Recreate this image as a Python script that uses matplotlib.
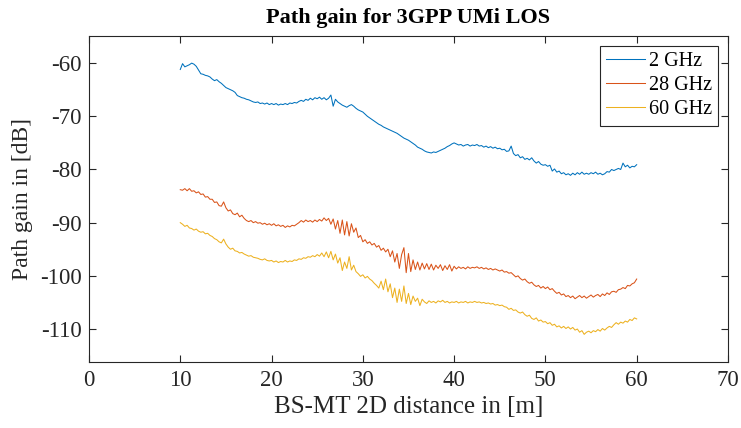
import numpy as np
import matplotlib
matplotlib.use("Agg")
import matplotlib.pyplot as plt

plt.rcParams['font.family'] = ['Liberation Serif', 'DejaVu Serif']
plt.rcParams['axes.unicode_minus'] = False
plt.rcParams['mathtext.fontset'] = 'stix'

distance = np.linspace(10, 60, 201)
labels = ["2 GHz", "28 GHz", "60 GHz"]

gain_2ghz = [
    -61.2, -60.1, -60.7, -60.5, -60.3, -60.0, -60.2, -60.6, -61.3, -62.0,
    -62.1, -62.3, -62.4, -62.6, -63.0, -63.3, -63.1, -63.5, -63.8, -64.2,
    -64.6, -64.8, -65.0, -65.2, -65.5, -66.1, -66.3, -66.5, -66.6, -66.8,
    -66.9, -67.1, -67.3, -67.4, -67.3, -67.6, -67.5, -67.7, -67.5, -67.8,
    -67.6, -67.8, -67.6, -67.9, -67.7, -67.8, -67.6, -67.8, -67.5, -67.6,
    -67.4, -67.5, -67.2, -67.0, -67.2, -66.8, -67.0, -66.6, -66.9, -66.5,
    -66.7, -66.4, -66.8, -66.5, -66.9, -66.6, -66.0, -68.1, -66.8, -67.3,
    -67.6, -67.9, -68.1, -68.3, -68.0, -67.8, -68.1, -68.5, -68.8, -69.0,
    -69.2, -69.6, -70.0, -70.3, -70.6, -70.9, -71.2, -71.5, -71.7, -72.0,
    -72.2, -72.4, -72.6, -72.8, -73.0, -73.2, -73.5, -73.8, -74.1, -74.3,
    -74.5, -74.8, -75.1, -75.4, -75.8, -76.0, -76.2, -76.5, -76.7, -76.8,
    -76.9, -76.7, -76.8, -76.6, -76.4, -76.2, -76.0, -75.7, -75.5, -75.2,
    -75.0, -75.2, -75.4, -75.3, -75.6, -75.4, -75.3, -75.6, -75.4, -75.5,
    -75.3, -75.6, -75.5, -75.8, -75.6, -75.9, -75.7, -76.0, -75.8, -76.1,
    -76.0, -76.3, -76.2, -76.6, -76.5, -75.6, -77.0, -77.4, -77.2, -77.8,
    -77.6, -78.1, -77.9, -78.2, -77.8, -78.4, -78.8, -78.5, -79.0, -79.2,
    -79.1, -79.4, -79.2, -80.3, -79.9, -80.5, -80.3, -80.8, -80.6, -81.0,
    -80.8, -81.1, -80.7, -81.0, -80.6, -80.9, -80.5, -80.9, -80.7, -80.9,
    -80.6, -80.8, -80.5, -80.9, -80.7, -81.0, -80.8, -80.4, -80.5, -80.0,
    -80.2, -80.0, -79.8, -80.0, -78.8, -79.5, -79.2, -79.7, -79.4, -79.5,
    -79.1,
]

gain_28ghz = [
    -83.8, -83.9, -83.6, -84.0, -83.6, -84.1, -84.0, -84.4, -84.2, -84.7,
    -84.6, -85.2, -85.1, -85.6, -85.6, -86.2, -86.1, -86.8, -86.9, -86.1,
    -87.2, -87.8, -87.6, -88.3, -88.5, -88.2, -88.9, -88.6, -89.2, -89.6,
    -89.8, -89.6, -90.0, -89.8, -90.1, -90.0, -90.3, -90.1, -90.4, -90.2,
    -90.5, -90.2, -90.6, -90.4, -90.7, -90.5, -90.9, -90.6, -90.8, -90.5,
    -90.6, -90.3, -90.0, -89.6, -89.9, -89.5, -89.8, -89.6, -89.9, -89.5,
    -89.8, -89.4, -89.7, -89.1, -89.6, -89.2, -90.3, -89.3, -91.2, -89.6,
    -92.0, -89.5, -92.3, -89.8, -92.5, -90.2, -91.8, -91.0, -92.8, -92.4,
    -93.6, -93.2, -93.9, -93.6, -94.2, -93.9, -94.6, -94.3, -95.2, -94.8,
    -95.5, -95.0, -96.4, -95.3, -97.4, -95.8, -98.6, -96.0, -94.7, -99.4,
    -95.8, -99.2, -97.0, -98.8, -97.4, -98.9, -97.6, -98.7, -97.7, -98.8,
    -97.8, -98.9, -98.0, -98.6, -97.9, -99.0, -98.1, -98.8, -97.9, -99.1,
    -98.2, -98.7, -98.3, -98.6, -98.4, -98.7, -98.3, -98.6, -98.4, -98.5,
    -98.3, -98.6, -98.4, -98.7, -98.5, -98.8, -98.6, -98.9, -98.7, -98.9,
    -99.1, -98.9, -99.3, -99.2, -99.5, -99.4, -99.8, -100.2, -100.0, -100.5,
    -100.8, -100.6, -101.1, -101.4, -101.2, -101.7, -102.0, -101.8, -102.3, -102.0,
    -102.4, -102.1, -102.6, -102.4, -102.9, -103.3, -103.1, -103.6, -103.4, -103.9,
    -103.7, -104.1, -103.8, -104.3, -104.0, -103.7, -104.1, -103.8, -104.2, -103.9,
    -103.6, -104.0, -103.7, -103.5, -103.9, -103.4, -103.7, -103.2, -103.5, -103.0,
    -102.9, -103.1, -102.6, -102.5, -102.2, -102.4, -101.8, -101.9, -101.5, -101.3,
    -100.6,
]

gain_60ghz = [
    -90.0, -90.3, -90.7, -90.5, -91.0, -91.1, -91.4, -91.2, -91.6, -91.8,
    -91.7, -92.1, -92.0, -92.4, -92.6, -93.0, -93.2, -93.6, -93.8, -93.1,
    -94.0, -94.6, -95.0, -94.8, -95.3, -95.4, -95.7, -95.6, -95.9, -96.1,
    -96.3, -96.2, -96.5, -96.6, -96.7, -96.9, -97.0, -96.8, -97.1, -97.2,
    -97.1, -97.4, -97.2, -97.5, -97.3, -97.4, -97.1, -97.4, -97.2, -97.3,
    -97.0, -97.1, -96.8, -96.9, -96.6, -96.7, -96.4, -96.5, -96.2, -96.4,
    -96.0, -96.3, -95.7, -96.4, -95.5, -96.6, -95.4, -97.0, -95.9, -97.6,
    -96.6, -99.0, -97.4, -98.6, -96.4, -98.9, -98.0, -99.2, -99.6, -100.1,
    -99.8, -100.4, -100.1, -100.6, -100.9, -101.4, -101.8, -102.3, -101.0, -102.6,
    -100.6, -103.0, -101.5, -104.1, -102.3, -105.0, -102.5, -104.8, -101.9, -105.2,
    -103.3, -105.4, -103.8, -104.8, -104.2, -105.6, -104.4, -104.9, -105.2, -104.7,
    -105.0, -104.8, -105.1, -104.7, -104.9, -104.6, -105.0, -104.8, -105.1, -104.9,
    -105.0, -104.8, -105.1, -104.9, -105.0, -104.8, -105.1, -104.9, -105.0, -104.8,
    -105.0, -104.9, -105.1, -105.0, -105.2, -105.1, -105.3, -105.2, -105.5, -105.4,
    -105.6, -105.5, -105.8, -105.9, -106.3, -106.1, -106.5, -106.4, -106.8, -107.0,
    -106.8, -107.3, -107.6, -107.4, -108.0, -108.2, -107.9, -108.5, -108.3, -108.7,
    -108.6, -109.0, -108.8, -109.3, -109.1, -109.6, -109.4, -109.8, -109.5, -109.9,
    -109.6, -110.0, -109.7, -110.2, -110.0, -110.6, -110.3, -111.0, -110.6, -110.4,
    -110.7, -110.3, -110.5, -110.1, -110.4, -109.9, -110.2, -109.8, -109.5, -109.7,
    -109.2, -108.8, -109.1, -108.7, -108.9, -108.5, -108.7, -108.2, -108.4, -107.9,
    -108.1,
]

colors = ["#0072BD", "#D95319", "#EDB120"]
x_ticks = [0, 10, 20, 30, 40, 50, 60, 70]
y_ticks = [-110, -100, -90, -80, -70, -60]

fig = plt.figure(figsize=(7.41, 4.28), dpi=100)
ax = fig.add_axes([0.1201, 0.1542, 0.8623, 0.7617])

for series, lab, col in zip([gain_2ghz, gain_28ghz, gain_60ghz], labels, colors):
    ax.plot(distance, series, color=col, lw=0.75, label=lab)

ax.set_xlim(0, 70)
ax.set_ylim(-116.2, -54.9)
ax.set_xticks(x_ticks)
ax.set_yticks(y_ticks)
ax.tick_params(direction='in', top=True, right=True, length=5, width=0.8,
               labelsize=16.5, colors='#262626')
ax.tick_params(axis='x', pad=6)
ax.tick_params(axis='y', pad=5)
for sp in ax.spines.values():
    sp.set_color('#262626')
    sp.set_linewidth(0.8)

ax.set_xlabel("BS-MT 2D distance in [m]", fontsize=18, color='#262626', labelpad=3)
ax.set_ylabel("Path gain in [dB]", fontsize=17, color='#262626', labelpad=5)
ax.set_title("Path gain for 3GPP UMi LOS", fontsize=16, fontweight='bold', pad=9)

leg = ax.legend(loc='upper right', fontsize=14.5, frameon=True, fancybox=False,
                edgecolor='#262626', framealpha=1, borderpad=0.3,
                handlelength=1.9, handletextpad=0.2, labelspacing=0.25,
                borderaxespad=0.5)
leg.get_frame().set_linewidth(0.8)

fig.savefig("out.png", dpi=100)
